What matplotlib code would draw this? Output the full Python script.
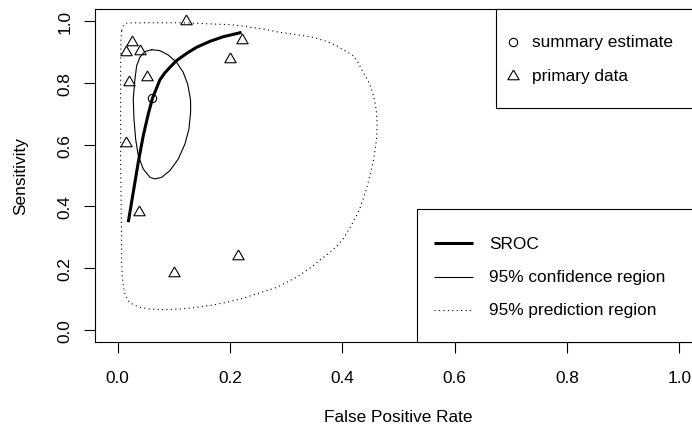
import matplotlib.pyplot as plt
from matplotlib.patches import Rectangle
import numpy as np

plt.rcParams['font.family'] = ['Liberation Sans', 'DejaVu Sans']

# primary data: one point per study
study_fpr = [0.121, 0.026, 0.014, 0.039, 0.052, 0.020, 0.015, 0.200, 0.222, 0.038, 0.100, 0.215]
study_sens = [1.000, 0.932, 0.899, 0.904, 0.818, 0.801, 0.604, 0.876, 0.939, 0.381, 0.184, 0.241]

# summary estimate
summary_fpr = 0.062
summary_sens = 0.752

# SROC curve
sroc_fpr = [0.0189, 0.0278, 0.0367, 0.0456, 0.0545, 0.0620, 0.0753, 0.084, 0.093, 0.105,
            0.1228, 0.1406, 0.1642, 0.188, 0.2206]
sroc_sens = [0.349, 0.446, 0.543, 0.629, 0.699, 0.750, 0.810, 0.832, 0.850, 0.872,
             0.895, 0.915, 0.934, 0.949, 0.963]

# 95% confidence region
conf_fpr = [0.0605, 0.0486, 0.0397, 0.0338, 0.0308, 0.0290, 0.0278, 0.0290, 0.0320, 0.0367,
            0.0456, 0.0575, 0.0664, 0.0783, 0.0931, 0.1078, 0.1198, 0.1269, 0.1299, 0.1299,
            0.1286, 0.1246, 0.1167, 0.1050, 0.0900, 0.0753]
conf_sens = [0.907, 0.901, 0.883, 0.855, 0.812, 0.775, 0.748, 0.683, 0.618, 0.564,
             0.521, 0.494, 0.489, 0.494, 0.516, 0.553, 0.602, 0.650, 0.705, 0.740,
             0.758, 0.796, 0.834, 0.866, 0.890, 0.904]

# 95% prediction region
pred_fpr = [0.0071, 0.0100, 0.0160, 0.0278, 0.0516, 0.1167, 0.1600, 0.1998, 0.2176, 0.2354,
            0.2591, 0.2888, 0.3185, 0.3480, 0.3719, 0.3897, 0.4045, 0.4192, 0.4281, 0.4370,
            0.4459, 0.4520, 0.4578, 0.4609, 0.4620, 0.4609, 0.4578, 0.4548, 0.4490, 0.4430,
            0.4370, 0.4311, 0.4253, 0.4192, 0.4103, 0.4014, 0.3897, 0.3778, 0.3630, 0.3480,
            0.3333, 0.3185, 0.3007, 0.2829, 0.2651, 0.2473, 0.2235, 0.1998, 0.1700, 0.1406,
            0.1109, 0.0811, 0.0575, 0.0397, 0.0278, 0.0189, 0.0130, 0.0100, 0.0082, 0.0071,
            0.0071, 0.0053, 0.0053, 0.0059]
pred_sens = [0.969, 0.985, 0.993, 0.994, 0.994, 0.994, 0.991, 0.988, 0.985, 0.980,
             0.974, 0.963, 0.956, 0.947, 0.934, 0.920, 0.904, 0.888, 0.866, 0.834,
             0.807, 0.780, 0.742, 0.705, 0.661, 0.618, 0.575, 0.543, 0.499, 0.456,
             0.424, 0.392, 0.370, 0.349, 0.321, 0.294, 0.271, 0.251, 0.230, 0.208,
             0.189, 0.171, 0.154, 0.138, 0.127, 0.117, 0.103, 0.092, 0.081, 0.0735,
             0.068, 0.066, 0.068, 0.0735, 0.082, 0.095, 0.117, 0.143, 0.176, 0.219,
             0.273, 0.532, 0.855, 0.942]

ticks = [0.0, 0.2, 0.4, 0.6, 0.8, 1.0]
tick_labels = ['0.0', '0.2', '0.4', '0.6', '0.8', '1.0']

W, H = 692, 427
FS = 12.4

def fx(px):
    return px / W

def fy(py):
    return 1 - py / H

# R-style triangle (pch = 2), centred on its circumcentre
tri = [(0, 1), (0.866, -0.5), (-0.866, -0.5), (0, 1)]

fig = plt.figure(figsize=(W / 100, H / 100), dpi=100)
ax = fig.add_axes([fx(95.2), fy(343.4), (701.7 - 95.2) / W, (343.4 - 9.6) / H])
ax.set_xlim(-0.04, 1.04)
ax.set_ylim(-0.04, 1.04)

ax.plot(np.r_[pred_fpr, pred_fpr[0]], np.r_[pred_sens, pred_sens[0]],
        color='black', lw=0.8, linestyle=(0, (1, 3)))
ax.plot(np.r_[conf_fpr, conf_fpr[0]], np.r_[conf_sens, conf_sens[0]], color='black', lw=0.8)
ax.plot(sroc_fpr, sroc_sens, color='black', lw=2.2, solid_capstyle='butt')
ax.plot(study_fpr, study_sens, linestyle='none', marker=tri, ms=9.4,
        mfc='none', mec='black', mew=0.8)
ax.plot([summary_fpr], [summary_sens], linestyle='none', marker='o', ms=6,
        mfc='none', mec='black', mew=0.8)

ax.set_xticks(ticks)
ax.set_xticklabels(tick_labels)
ax.set_yticks(ticks)
ax.set_yticklabels(tick_labels)
ax.tick_params(axis='both', direction='out', length=7.6, width=0.8, labelsize=FS, color='black')
ax.tick_params(axis='x', pad=12)
ax.tick_params(axis='y', pad=8.6)
for lab in ax.get_yticklabels():
    lab.set_rotation(90)
    lab.set_va('center')
for sp in ax.spines.values():
    sp.set_linewidth(0.8)

fig.text(fx(398.5), fy(418), 'False Positive Rate', ha='center', va='center', fontsize=FS)
fig.text(fx(21), fy(176.5), 'Sensitivity', ha='center', va='center', rotation=90, fontsize=FS)

# legend boxes drawn the way R's legend() lays them out
fig.add_artist(Rectangle((fx(495.7), fy(109)), (720 - 495.7) / W, (109 - 9.6) / H,
                         transform=fig.transFigure, facecolor='white', edgecolor='black', lw=0.8))
fig.add_artist(Rectangle((fx(417), fy(343.4)), (720 - 417) / W, (343.4 - 210) / H,
                         transform=fig.transFigure, facecolor='white', edgecolor='black', lw=0.8))

fig.add_artist(plt.Line2D([fx(513)], [fy(43)], transform=fig.transFigure, linestyle='none',
                          marker='o', ms=6, mfc='none', mec='black', mew=0.8))
fig.text(fx(532), fy(43), 'summary estimate', va='center', fontsize=FS)
fig.add_artist(plt.Line2D([fx(513)], [fy(77)], transform=fig.transFigure, linestyle='none',
                          marker=tri, ms=9.4, mfc='none', mec='black', mew=0.8))
fig.text(fx(532), fy(77), 'primary data', va='center', fontsize=FS)

rows = [(244.3, 'SROC', dict(lw=2.2, linestyle='-')),
        (277.7, '95% confidence region', dict(lw=0.8, linestyle='-')),
        (311, '95% prediction region', dict(lw=0.8, linestyle=(0, (1, 3))))]
for y, label, style in rows:
    fig.add_artist(plt.Line2D([fx(434), fx(473)], [fy(y), fy(y)], transform=fig.transFigure,
                              color='black', solid_capstyle='butt', **style))
    fig.text(fx(489), fy(y), label, va='center', fontsize=FS)

fig.savefig('out.png', dpi=100)
